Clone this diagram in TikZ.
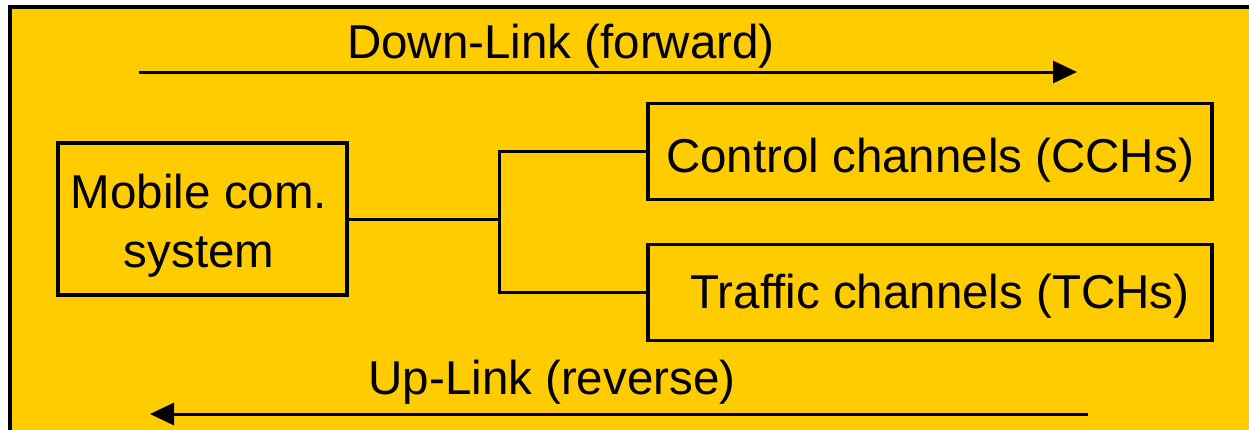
\documentclass[tikz,border=0pt]{standalone}
\usepackage{fontspec}
\setmainfont{Liberation Sans}
\usetikzlibrary{arrows.meta}
\definecolor{panel}{HTML}{FFCC00}
\begin{document}
\begin{tikzpicture}[x=1pt,y=-1pt,
  box/.style={draw, line width=3.5pt, inner sep=0pt},
  wire/.style={line width=3pt},
  flow/.style={line width=3pt, -{Triangle[length=24pt,width=22pt]}},
  lbl/.style={font=\fontsize{47.5}{59}\selectfont, inner sep=0pt, anchor=base}]
% page and yellow panel
\path[use as bounding box, fill=white] (0,0) rectangle (1249,429);
\begin{scope}
  \clip (0,0) rectangle (1249,429);
  \draw[fill=panel, line width=4pt] (10,7) rectangle (1270,450);
\end{scope}

% boxes
\node[box, minimum width=289pt, minimum height=152pt] (mob) at (202.5,219) {};
\node[box, minimum width=564pt, minimum height=96pt] (cch) at (930,151.5) {};
\node[box, minimum width=564pt, minimum height=96pt] (tch) at (930,292.5) {};

% texts (base anchor of a two-line node is the last baseline)
\node[lbl, align=center] (mobtext) at (199,267) {Mobile com.\\system};
\node[lbl] (cchtext) at (930,172) {Control channels (CCHs)};
\node[lbl] (tchtext) at (940,308) {Traffic channels (TCHs)};
\node[lbl] (dltext) at (561,58) {Down-Link (forward)};
\node[lbl] (ultext) at (552,394) {Up-Link (reverse)};

% direction arrows
\coordinate (dlA) at (139,72);
\coordinate (dlB) at (1077,72);
\coordinate (ulA) at (1088,414);
\coordinate (ulB) at (150,414);
\draw[flow] (dlA) -- (dlB);
\draw[flow] (ulA) -- (ulB);

% branching connector
\coordinate (fork) at (499,220);
\draw[wire] (mob.east) -- (mob.east -| fork);
\draw[wire] (cch.west) -| (fork) |- (tch.west);
\end{tikzpicture}
\end{document}
